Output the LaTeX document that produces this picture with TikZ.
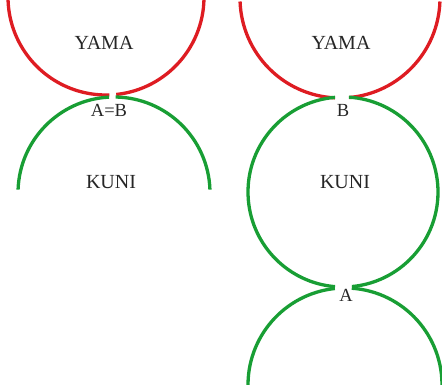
\documentclass[tikz,border=0pt]{standalone}
\usepackage{fontspec}
\setmainfont{Liberation Serif}
\definecolor{yamared}{RGB}{222,28,34}
\definecolor{kunigreen}{RGB}{24,158,52}
\begin{document}
\begin{tikzpicture}[x=1pt,y=1pt,
  yamaarc/.style={draw=yamared,line width=3.3pt},
  kuniarc/.style={draw=kunigreen,line width=3.3pt},
  word/.style={font=\fontsize{20}{22}\selectfont,text=black!85},
  pointlabel/.style={font=\fontsize{18.5}{20}\selectfont,text=black!85}]
\useasboundingbox (0,0) rectangle (442,385);
\clip (0,0) rectangle (442,385);

% left pair: YAMA above, KUNI below, touching at A=B
\draw[yamaarc] (106,388) ++(178:98) arc[start angle=178,end angle=272,radius=98];
\draw[yamaarc] (106,388) ++(276:98) arc[start angle=276,end angle=362,radius=98];
\draw[kuniarc] (114,192) ++(93:96) arc[start angle=93,end angle=178,radius=96];
\draw[kuniarc] (114,192) ++(2:96) arc[start angle=2,end angle=89,radius=96];

% right column: YAMA, full KUNI circle, next arc below
\draw[yamaarc] (340,387) ++(182:100) arc[start angle=182,end angle=267.1,radius=100];
\draw[yamaarc] (340,387) ++(275.2:100) arc[start angle=275.2,end angle=358,radius=100];
\draw[kuniarc] (343,193) ++(94.8:95) arc[start angle=94.8,end angle=265.2,radius=95];
\draw[kuniarc] (343,193) ++(275.4:95) arc[start angle=275.4,end angle=446.4,radius=95];
\draw[kuniarc] (345,0) ++(96:97) arc[start angle=96,end angle=182,radius=97];
\draw[kuniarc] (345,0) ++(-2:97) arc[start angle=-2,end angle=86,radius=97];

% labels
\node[word] (yamaL) at (104,342) {YAMA};
\node[word] (kuniL) at (111,203) {KUNI};
\node[pointlabel] (ab) at (109,275) {A=B};
\node[word] (yamaR) at (341,342) {YAMA};
\node[word] (kuniR) at (345,203) {KUNI};
\node[pointlabel] (b) at (343,275) {B};
\node[pointlabel] (a) at (346,90) {A};
\end{tikzpicture}
\end{document}
